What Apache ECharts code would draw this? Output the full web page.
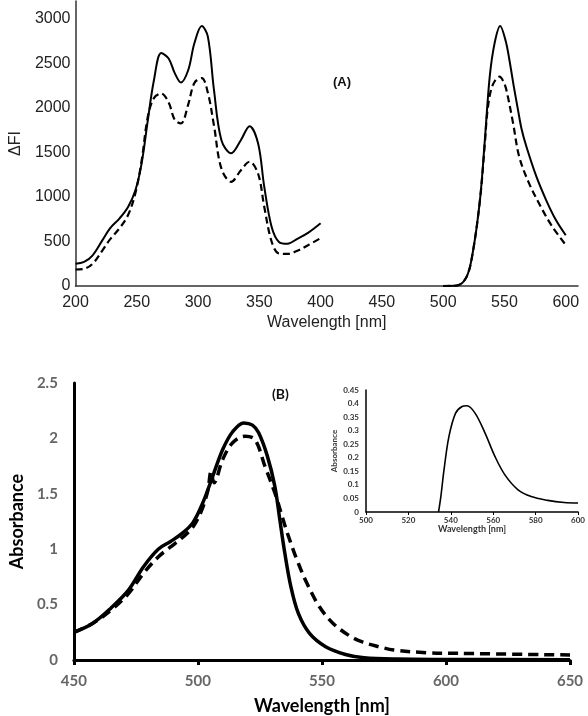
<!DOCTYPE html>
<html>
<head>
<meta charset="utf-8">
<script src="https://cdn.jsdelivr.net/npm/echarts@6/dist/echarts.min.js"></script>
<style>
html, body { margin: 0; padding: 0; background: #fff; }
#chart { width: 588px; height: 716px; }
</style>
</head>
<body>
<div id="chart"></div>
<script>
// (A) fluorescence, excitation part
const wlA1 = [200, 207, 214, 222, 228, 236, 243, 249, 254, 259, 264, 270, 276, 281, 286, 292, 297, 303, 308, 313, 319, 327, 335, 342, 349, 354, 360, 366, 373, 381, 390, 400];
const fiSolid1 = [250, 270, 345, 515, 645, 760, 890, 1080, 1380, 1860, 2310, 2615, 2555, 2390, 2285, 2425, 2725, 2920, 2800, 2200, 1640, 1490, 1640, 1795, 1600, 1115, 665, 495, 475, 530, 600, 705];
const fiDash1 = [185, 193, 250, 400, 520, 650, 800, 1050, 1410, 1900, 2110, 2160, 2060, 1865, 1825, 2040, 2280, 2335, 2170, 1800, 1320, 1170, 1300, 1395, 1260, 890, 500, 365, 360, 395, 460, 537];
// (A) emission part
const wlA2 = [500, 511, 519, 524, 530, 534, 538, 542, 546.5, 551, 554, 557.5, 561, 564, 568, 576, 584, 592, 600];
const fiSolid2 = [0, 5, 100, 365, 965, 1640, 2355, 2730, 2920, 2750, 2540, 2250, 1980, 1760, 1560, 1230, 965, 740, 570];
const wlA3 = [500, 511, 519, 524, 530, 534, 536, 539, 542.5, 546, 549, 551.5, 557, 562, 570, 581, 589, 600];
const fiDash2 = [0, 5, 100, 365, 965, 1600, 1950, 2200, 2310, 2350, 2300, 2205, 1830, 1454, 1155, 855, 667, 461];

// (B) absorbance
const wlB1 = [450, 457.5, 465, 472, 478, 484, 489, 494, 498, 502, 506, 510, 514, 518.5, 522, 524.5, 528, 531, 533, 535, 537.5, 540.5, 545, 551.5, 559.5, 567, 580, 600, 650];
const absSolid = [0.25, 0.33, 0.47, 0.63, 0.84, 1.0, 1.07, 1.15, 1.24, 1.42, 1.66, 1.9, 2.06, 2.14, 2.12, 2.05, 1.84, 1.57, 1.27, 0.97, 0.66, 0.42, 0.24, 0.12, 0.05, 0.02, 0.008, 0.005, 0.003];
const wlB2 = [450, 457.5, 465, 472, 478, 484, 489, 494, 498, 501.5, 504, 505.3, 506.5, 510, 514, 519, 523, 527, 531, 533.5, 536, 540, 544, 549, 554.5, 561, 566, 573, 579, 592, 605, 650];
const absDash = [0.25, 0.33, 0.45, 0.6, 0.78, 0.93, 1.02, 1.11, 1.2, 1.35, 1.53, 1.7, 1.6, 1.81, 1.96, 2.02, 1.99, 1.75, 1.51, 1.33, 1.15, 0.9, 0.69, 0.48, 0.33, 0.22, 0.165, 0.12, 0.09, 0.066, 0.06, 0.045];

// inset
const wlIn = [534.2, 535.3, 536.8, 539.1, 542.2, 545.3, 547.6, 551.5, 556.2, 560.8, 565.5, 571.7, 577.9, 585.7, 593.4, 600];
const absIn = [0, 0.057, 0.156, 0.278, 0.364, 0.389, 0.392, 0.364, 0.29, 0.205, 0.137, 0.082, 0.057, 0.043, 0.035, 0.033];

const zip = (xs, ys) => xs.map((x, i) => [x, ys[i]]);

const fontA = 'Liberation Sans, Arial, sans-serif';
const fontB = 'Lato, Open Sans, sans-serif';

const chart = echarts.init(document.getElementById('chart'));

const lineSeries = (xi, yi, data, width, dashed, dash) => ({
    type: 'line',
    xAxisIndex: xi,
    yAxisIndex: yi,
    data: data,
    smooth: 0.35,
    showSymbol: false,
    lineStyle: {
        color: '#000',
        width: width,
        type: dashed ? dash : 'solid'
    }
});

chart.setOption({
    animation: false,
    backgroundColor: '#fff',
    grid: [
        { left: 73, top: 1, width: 505, height: 285 },
        { left: 61, top: 383, width: 509, height: 277 },
        { left: 366, top: 390, width: 215, height: 122 }
    ],
    xAxis: [{
        gridIndex: 0,
        type: 'value',
        min: 200,
        max: 610,
        interval: 50,
        name: 'Wavelength [nm]',
        nameLocation: 'middle',
        nameGap: 29,
        nameTextStyle: { fontFamily: fontA, fontSize: 16, color: '#222' },
        axisLine: { lineStyle: { color: '#333', width: 1.5 } },
        axisTick: { show: false },
        splitLine: { show: false },
        axisLabel: {
            fontFamily: fontA, fontSize: 16, color: '#222', margin: 9,
            formatter: v => (v % 50 === 0 ? v : '')
        }
    }, {
        gridIndex: 1,
        type: 'value',
        min: 450,
        max: 650,
        interval: 50,
        name: 'Wavelength [nm]',
        nameLocation: 'middle',
        nameGap: 37,
        nameTextStyle: { fontFamily: fontB, fontSize: 18, fontWeight: 'bold', color: '#000' },
        axisLine: { lineStyle: { color: '#000', width: 3 } },
        axisTick: { show: true, length: 5, lineStyle: { color: '#000', width: 3 } },
        splitLine: { show: false },
        axisLabel: { fontFamily: fontB, fontSize: 15, fontWeight: 'bold', color: '#666', margin: 14 }
    }, {
        gridIndex: 2,
        type: 'value',
        min: 500,
        max: 600,
        interval: 20,
        name: 'Wavelength [nm]',
        nameLocation: 'middle',
        nameGap: 10,
        nameTextStyle: { fontFamily: fontB, fontSize: 9, fontWeight: 'bold', color: '#333' },
        axisLine: { lineStyle: { color: '#000', width: 1.5 } },
        axisTick: { show: true, length: 3, lineStyle: { color: '#000', width: 1 } },
        splitLine: { show: false },
        axisLabel: { fontFamily: fontB, fontSize: 8, fontWeight: 'bold', color: '#333', margin: 4 }
    }],
    yAxis: [{
        gridIndex: 0,
        type: 'value',
        min: 0,
        max: 3200,
        interval: 500,
        name: 'ΔFI',
        nameLocation: 'middle',
        nameGap: 42,
        nameTextStyle: { fontFamily: fontA, fontSize: 16, color: '#222' },
        axisLine: { show: true, lineStyle: { color: '#333', width: 1.5 } },
        axisTick: { show: false },
        splitLine: { show: false },
        axisLabel: {
            fontFamily: fontA, fontSize: 16, color: '#222', margin: 5,
            formatter: v => (v % 500 === 0 ? v : '')
        }
    }, {
        gridIndex: 1,
        type: 'value',
        min: 0,
        max: 2.5,
        interval: 0.5,
        name: 'Absorbance',
        nameLocation: 'middle',
        nameGap: 44,
        nameTextStyle: { fontFamily: fontB, fontSize: 18, fontWeight: 'bold', color: '#000' },
        axisLine: { show: true, lineStyle: { color: '#000', width: 3 } },
        axisTick: { show: false },
        splitLine: { show: false },
        axisLabel: { fontFamily: fontB, fontSize: 15, fontWeight: 'bold', color: '#666', margin: 16 }
    }, {
        gridIndex: 2,
        type: 'value',
        min: 0,
        max: 0.45,
        interval: 0.05,
        name: 'Absorbance',
        nameLocation: 'middle',
        nameGap: 28,
        nameTextStyle: { fontFamily: fontB, fontSize: 8, fontWeight: 'bold', color: '#333' },
        axisLine: { show: true, lineStyle: { color: '#000', width: 1.5 } },
        axisTick: { show: false },
        splitLine: { show: false },
        axisLabel: { fontFamily: fontB, fontSize: 8, fontWeight: 'bold', color: '#333', margin: 7 }
    }],
    graphic: [{
        type: 'text', left: 333, top: 76,
        style: { text: '(A)', font: 'bold 13px ' + fontA, fill: '#111' }
    }, {
        type: 'text', left: 272, top: 387,
        style: { text: '(B)', font: 'bold 14px ' + fontB, fill: '#111' }
    }],
    series: [
        lineSeries(0, 0, zip(wlA1, fiSolid1), 2, false),
        lineSeries(0, 0, zip(wlA1, fiDash1), 2.2, true, [7, 4]),
        lineSeries(0, 0, zip(wlA2, fiSolid2), 2, false),
        lineSeries(0, 0, zip(wlA3, fiDash2), 2.2, true, [7, 4]),
        lineSeries(1, 1, zip(wlB1, absSolid), 3.5, false),
        lineSeries(1, 1, zip(wlB2, absDash), 3.5, true, [10, 6]),
        lineSeries(2, 2, zip(wlIn, absIn), 1.6, false)
    ]
});
</script>
</body>
</html>
